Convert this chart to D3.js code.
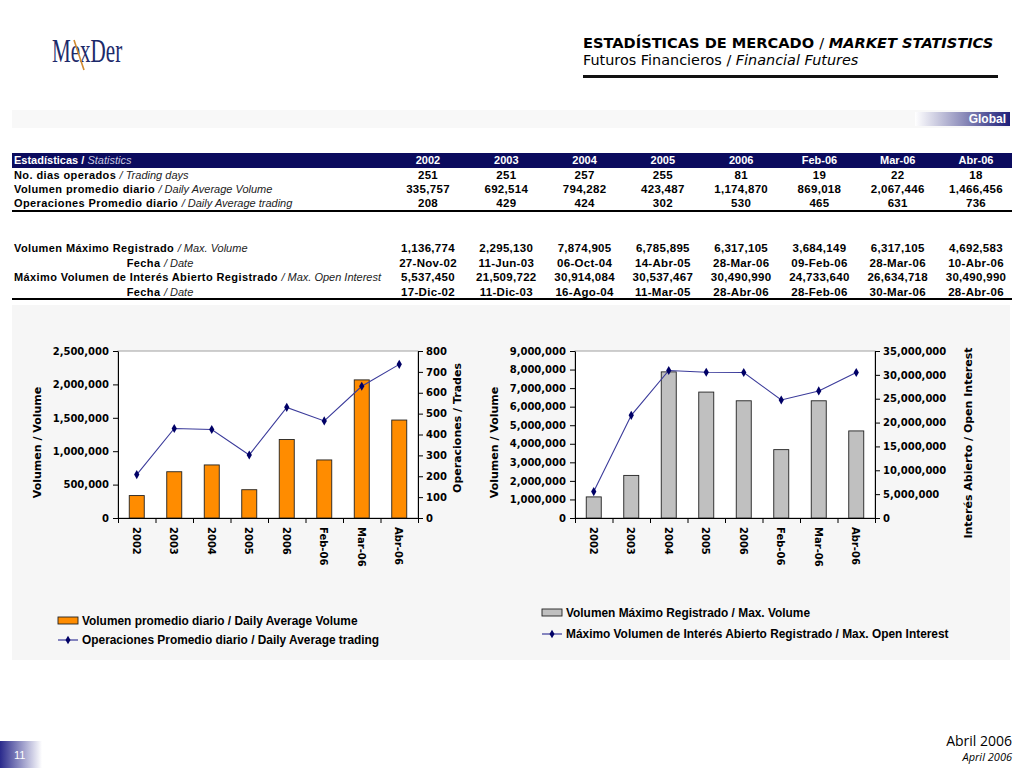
<!DOCTYPE html>
<html>
<head>
<meta charset="utf-8">
<script src="https://cdn.jsdelivr.net/npm/d3@7"></script>
<style>
body { margin: 0; background: #fff; }
svg { display: block; font-family: "Liberation Sans", Arial, sans-serif; }
</style>
</head>
<body>
<svg id="page" width="1024" height="768"></svg>
<script>
// ---- data ----
var categories = ["2002", "2003", "2004", "2005", "2006", "Feb-06", "Mar-06", "Abr-06"];
var tradingDays = [251, 251, 257, 255, 81, 19, 22, 18];
var avgVolume = [335757, 692514, 794282, 423487, 1174870, 869018, 2067446, 1466456];
var avgTrades = [208, 429, 424, 302, 530, 465, 631, 736];
var maxVolume = [1136774, 2295130, 7874905, 6785895, 6317105, 3684149, 6317105, 4692583];
var maxVolumeDate = ["27-Nov-02", "11-Jun-03", "06-Oct-04", "14-Abr-05", "28-Mar-06", "09-Feb-06", "28-Mar-06", "10-Abr-06"];
var maxOpenInterest = [5537450, 21509722, 30914084, 30537467, 30490990, 24733640, 26634718, 30490990];
var maxOpenInterestDate = ["17-Dic-02", "11-Dic-03", "16-Ago-04", "11-Mar-05", "28-Abr-06", "28-Feb-06", "30-Mar-06", "28-Abr-06"];

var volTicks1 = [0, 500000, 1000000, 1500000, 2000000, 2500000];
var tradeTicks1 = [0, 100, 200, 300, 400, 500, 600, 700, 800];
var volTicks2 = [0, 1000000, 2000000, 3000000, 4000000, 5000000, 6000000, 7000000, 8000000, 9000000];
var oiTicks2 = [0, 5000000, 10000000, 15000000, 20000000, 25000000, 30000000, 35000000];

var svg = d3.select("#page");
var fmt = d3.format(",");
var navy = "#0b0b5e";

// ---- header ----
var defs = svg.append("defs");
var g1 = defs.append("linearGradient").attr("id", "gradGlobal");
g1.append("stop").attr("offset", "0%").attr("stop-color", "#ffffff");
g1.append("stop").attr("offset", "100%").attr("stop-color", "#1e1e78");
var g2 = defs.append("linearGradient").attr("id", "gradPage");
g2.append("stop").attr("offset", "0%").attr("stop-color", "#2a2a8c");
g2.append("stop").attr("offset", "100%").attr("stop-color", "#ffffff");

// logo
var logo = svg.append("g").attr("transform", "translate(52,62) scale(0.62,1)");
logo.append("text").attr("x", 0).attr("y", 0)
  .style("font-family", "'Liberation Serif', serif").style("font-size", "34px")
  .style("fill", "#1c2a6a").text("MexDer");
svg.append("line").attr("x1", 74).attr("y1", 40).attr("x2", 84).attr("y2", 70)
  .attr("stroke", "#d08a30").attr("stroke-width", 1.6);

svg.append("text").attr("x", 583).attr("y", 48)
  .style("font-family", "'DejaVu Sans', sans-serif")
  .style("font-size", "14.6px").style("font-weight", "bold")
  .call(function (t) {
    t.append("tspan").text("ESTADÍSTICAS DE MERCADO ");
    t.append("tspan").style("font-weight", "normal").text("/ ");
    t.append("tspan").style("font-style", "italic").text("MARKET STATISTICS");
  });
svg.append("text").attr("x", 583).attr("y", 65)
  .style("font-family", "'DejaVu Sans', sans-serif")
  .style("font-size", "14.4px")
  .call(function (t) {
    t.append("tspan").text("Futuros Financieros / ");
    t.append("tspan").style("font-style", "italic").text("Financial Futures");
  });
svg.append("rect").attr("x", 583).attr("y", 75).attr("width", 415).attr("height", 3).attr("fill", "#111");

svg.append("rect").attr("x", 12).attr("y", 110).attr("width", 998).attr("height", 18).attr("fill", "#f8f8f8");
svg.append("rect").attr("x", 915).attr("y", 112).attr("width", 95).attr("height", 14).attr("fill", "url(#gradGlobal)");
svg.append("text").attr("x", 1006).attr("y", 123).attr("text-anchor", "end")
  .style("font-size", "12px").style("font-weight", "bold").style("fill", "#fff").text("Global");

// ---- statistics table ----
var col = d3.scalePoint().domain(categories).range([428, 976]);
var table = svg.append("g").style("font-size", "11px");
table.append("rect").attr("x", 12).attr("y", 153).attr("width", 1000).attr("height", 15).attr("fill", navy);
table.append("text").attr("x", 14).attr("y", 164).style("fill", "#fff")
  .call(function (t) {
    t.append("tspan").style("font-weight", "bold").text("Estadísticas / ");
    t.append("tspan").style("font-style", "italic").style("fill", "#c8c8e0").text(" Statistics");
  });
table.selectAll("text.hdr").data(categories).enter().append("text")
  .attr("class", "hdr").attr("x", function (d) { return col(d); }).attr("y", 164)
  .attr("text-anchor", "middle").style("fill", "#fff").style("font-weight", "bold")
  .text(function (d) { return d; });

var rows = [
  { y: 179, bold: "No. dias operados", ital: "Trading days", vals: tradingDays.map(String), center: false },
  { y: 193, bold: "Volumen promedio diario", ital: "Daily Average Volume", vals: avgVolume.map(fmt), center: false },
  { y: 207, bold: "Operaciones Promedio diario", ital: "Daily Average trading", vals: avgTrades.map(String), center: false },
  { y: 252, bold: "Volumen Máximo Registrado", ital: "Max. Volume", vals: maxVolume.map(fmt), center: false },
  { y: 267, bold: "Fecha", ital: "Date", vals: maxVolumeDate, center: true },
  { y: 281, bold: "Máximo Volumen de Interés Abierto Registrado", ital: "Max. Open Interest", vals: maxOpenInterest.map(fmt), center: false },
  { y: 296, bold: "Fecha", ital: "Date", vals: maxOpenInterestDate, center: true }
];
rows.forEach(function (r) {
  table.append("text").attr("x", r.center ? 160 : 14).attr("y", r.y)
    .attr("text-anchor", r.center ? "middle" : "start").style("fill", "#000")
    .call(function (t) {
      t.append("tspan").style("font-weight", "bold").style("letter-spacing", "0.4px").text(r.bold + " ");
      t.append("tspan").style("font-style", "italic").style("fill", "#222").text("/ " + r.ital);
    });
  table.selectAll(null).data(r.vals).enter().append("text")
    .attr("x", function (d, i) { return col(categories[i]); }).attr("y", r.y)
    .attr("text-anchor", "middle").style("font-weight", "bold").style("letter-spacing", "0.3px")
    .style("font-size", "11.5px").text(function (d) { return d; });
});
table.append("rect").attr("x", 12).attr("y", 210).attr("width", 1000).attr("height", 2).attr("fill", "#000");
table.append("rect").attr("x", 12).attr("y", 298).attr("width", 1000).attr("height", 2).attr("fill", "#000");

// ---- chart panel ----
svg.append("rect").attr("x", 12).attr("y", 305).attr("width", 998).attr("height", 355).attr("fill", "#f6f6f6");

function drawChart(o) {
  var g = svg.append("g");
  var x = d3.scaleBand().domain(categories).range([o.x0, o.x1]).paddingInner(0.6).paddingOuter(0.3);
  var yl = d3.scaleLinear().domain([0, o.leftMax]).range([o.yb, o.yt]);
  var yr = d3.scaleLinear().domain([0, o.rightMax]).range([o.yb, o.yt]);

  g.append("rect").attr("x", o.x0).attr("y", o.yt).attr("width", o.x1 - o.x0).attr("height", o.yb - o.yt)
    .attr("fill", "#fff").attr("stroke", "#a0a0a0").attr("stroke-width", 1);

  g.selectAll("rect.bar").data(o.bars).enter().append("rect").attr("class", "bar")
    .attr("x", function (d, i) { return x(categories[i]); })
    .attr("y", function (d) { return yl(d); })
    .attr("width", x.bandwidth())
    .attr("height", function (d) { return o.yb - yl(d); })
    .attr("fill", o.barColor).attr("stroke", "#222").attr("stroke-width", 0.9);

  var line = d3.line()
    .x(function (d, i) { return x(categories[i]) + x.bandwidth() / 2; })
    .y(function (d) { return yr(d); });
  g.append("path").datum(o.line).attr("d", line)
    .attr("fill", "none").attr("stroke", "#3a3a9a").attr("stroke-width", 1.1);
  g.selectAll("path.mk").data(o.line).enter().append("path").attr("class", "mk")
    .attr("d", d3.symbol().type(d3.symbolDiamond).size(24))
    .attr("transform", function (d, i) { return "translate(" + (x(categories[i]) + x.bandwidth() / 2) + "," + yr(d) + ")"; })
    .attr("fill", "#000066");

  var axisFont = function (sel) {
    sel.selectAll("text").style("font-family", "'DejaVu Sans', Verdana, sans-serif")
      .style("font-size", "10px").style("font-weight", "bold").style("fill", "#000");
    sel.selectAll("line, path").attr("stroke", "#000");
  };
  g.append("g").attr("transform", "translate(" + o.x0 + ",0)")
    .call(d3.axisLeft(yl).tickValues(o.leftTicks).tickFormat(fmt).tickSize(5).tickSizeOuter(0).tickPadding(4))
    .call(axisFont);
  g.append("g").attr("transform", "translate(" + o.x1 + ",0)")
    .call(d3.axisRight(yr).tickValues(o.rightTicks).tickFormat(fmt).tickSize(5).tickSizeOuter(0).tickPadding(3))
    .call(axisFont);
  var xb = d3.scaleLinear().domain([0, categories.length]).range([o.x0, o.x1]);
  g.append("g").attr("transform", "translate(0," + o.yb + ")")
    .call(d3.axisBottom(xb).tickValues(d3.range(categories.length + 1)).tickFormat("").tickSize(5).tickSizeOuter(0))
    .call(axisFont);
  g.selectAll("text.xl").data(categories).enter().append("text").attr("class", "xl")
    .attr("transform", function (d) { return "translate(" + (x(d) + x.bandwidth() / 2 - 4) + "," + (o.yb + 9) + ") rotate(90)"; })
    .style("font-family", "'DejaVu Sans', Verdana, sans-serif").style("font-size", "10px").style("font-weight", "bold")
    .text(function (d) { return d; });

  var title = function (tx, ty, label) {
    g.append("text").attr("transform", "translate(" + tx + "," + ty + ") rotate(-90)")
      .attr("text-anchor", "middle")
      .style("font-family", "'DejaVu Sans', Verdana, sans-serif").style("font-size", "11px").style("font-weight", "bold")
      .text(label);
  };
  title(o.ltx, (o.yt + o.yb) / 2 + 8, "Volumen / Volume");
  title(o.rtx, o.rty, o.rightTitle);

  // legend
  var lg = svg.append("g").style("font-size", "11.9px").style("font-weight", "bold");
  lg.append("rect").attr("x", o.lgx).attr("y", o.lgy - 4).attr("width", 20).attr("height", 7)
    .attr("fill", o.barColor).attr("stroke", "#222").attr("stroke-width", 0.9);
  lg.append("text").attr("x", o.lgx + 24).attr("y", o.lgy + 4).text(o.barLabel);
  var ly = o.lgy + o.lgGap;
  lg.append("line").attr("x1", o.lgx).attr("x2", o.lgx + 20).attr("y1", ly).attr("y2", ly)
    .attr("stroke", "#3a3a9a").attr("stroke-width", 1.2);
  lg.append("path").attr("d", d3.symbol().type(d3.symbolDiamond).size(22))
    .attr("transform", "translate(" + (o.lgx + 10) + "," + ly + ")").attr("fill", "#000066");
  lg.append("text").attr("x", o.lgx + 24).attr("y", ly + 4).text(o.lineLabel);
}

drawChart({
  x0: 118, x1: 418, yt: 351, yb: 518,
  bars: avgVolume, line: avgTrades, leftMax: 2500000, rightMax: 800,
  leftTicks: volTicks1, rightTicks: tradeTicks1, barColor: "#ff8c00",
  ltx: 41, rtx: 461, rty: 428, rightTitle: "Operaciones / Trades",
  lgx: 58, lgy: 621, lgGap: 19,
  barLabel: "Volumen promedio diario / Daily Average Volume",
  lineLabel: "Operaciones Promedio diario / Daily Average trading"
});
drawChart({
  x0: 575, x1: 875, yt: 351, yb: 518,
  bars: maxVolume, line: maxOpenInterest, leftMax: 9000000, rightMax: 35000000,
  leftTicks: volTicks2, rightTicks: oiTicks2, barColor: "#c0c0c0",
  ltx: 498, rtx: 972, rty: 443, rightTitle: "Interés Abierto / Open Interest",
  lgx: 542, lgy: 613, lgGap: 21,
  barLabel: "Volumen Máximo Registrado / Max. Volume",
  lineLabel: "Máximo Volumen de Interés Abierto Registrado / Max. Open Interest"
});

// ---- footer ----
svg.append("rect").attr("x", 0).attr("y", 741).attr("width", 42).attr("height", 27).attr("fill", "url(#gradPage)");
svg.append("text").attr("x", 14).attr("y", 759).style("font-size", "11px").style("fill", "#fff").text("11");
svg.append("text").attr("x", 1012).attr("y", 746).attr("text-anchor", "end")
  .style("font-family", "'Open Sans', sans-serif").style("font-size", "14px").text("Abril 2006");
svg.append("text").attr("x", 1012).attr("y", 761).attr("text-anchor", "end")
  .style("font-family", "'Open Sans', sans-serif").style("font-size", "11px").style("font-style", "italic").text("April 2006");
</script>
</body>
</html>
